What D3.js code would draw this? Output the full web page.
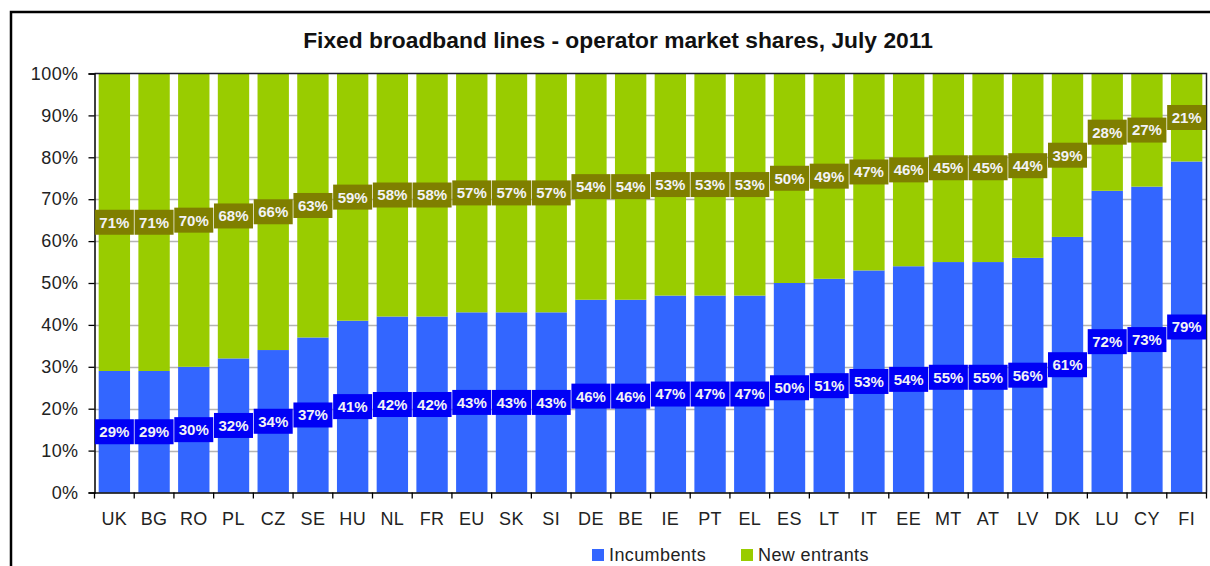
<!DOCTYPE html>
<html>
<head>
<meta charset="utf-8">
<script src="https://cdn.jsdelivr.net/npm/d3@7"></script>
<style>
  html, body { margin: 0; padding: 0; background: #fff; }
  svg { display: block; font-family: Arial, "Liberation Sans", sans-serif; }
</style>
</head>
<body>
<svg id="chart" width="1210" height="566"></svg>
<script>
// Fixed broadband lines: operator market shares by country, July 2011
const countries = ["UK","BG","RO","PL","CZ","SE","HU","NL","FR","EU","SK","SI","DE","BE","IE","PT","EL","ES","LT","IT","EE","MT","AT","LV","DK","LU","CY","FI"];
const incumbents = [29,29,30,32,34,37,41,42,42,43,43,43,46,46,47,47,47,50,51,53,54,55,55,56,61,72,73,79];
const newEntrants = [71,71,70,68,66,63,59,58,58,57,57,57,54,54,53,53,53,50,49,47,46,45,45,44,39,28,27,21];
const seriesNames = ["Incumbents", "New entrants"];
const yTicks = [0,10,20,30,40,50,60,70,80,90,100];
const titleText = "Fixed broadband lines - operator market shares, July 2011";

const svg = d3.select("#chart");
const plot = { left: 94.5, right: 1206.5, top: 73.5, bottom: 492.5 };
const axisFont = { size: 18, spacing: 0.4 };

const colors = {
  inc: "#3366ff", incLabel: "#0000f5",
  ne: "#99cc00", neLabel: "#7f7f00"
};

// outer frame (runs past the right and bottom edges)
svg.append("rect")
  .attr("x", 11).attr("y", 12).attr("width", 1300).attr("height", 700)
  .attr("fill", "none").attr("stroke", "#000").attr("stroke-width", 2.5);

const x = d3.scaleBand().domain(countries).range([plot.left, plot.right]).paddingInner(0.21).paddingOuter(0.105);
const y = d3.scaleLinear().domain([0, 100]).range([plot.bottom, plot.top]);

// horizontal gridlines
svg.append("g").selectAll("line").data(yTicks.filter(d => d > 0 && d < 100)).join("line")
  .attr("x1", plot.left).attr("x2", plot.right)
  .attr("y1", d => Math.round(y(d)) + 0.5).attr("y2", d => Math.round(y(d)) + 0.5)
  .attr("stroke", "#b4b4b4").attr("stroke-width", 1.3);

// stacked bars
const rows = countries.map((c, i) => ({ c, inc: incumbents[i], ne: newEntrants[i] }));
const bars = svg.append("g");
bars.selectAll("rect.inc").data(rows).join("rect").attr("class", "inc")
  .attr("x", d => x(d.c)).attr("width", x.bandwidth())
  .attr("y", d => y(d.inc)).attr("height", d => y(0) - y(d.inc))
  .attr("fill", colors.inc);
bars.selectAll("rect.ne").data(rows).join("rect").attr("class", "ne")
  .attr("x", d => x(d.c)).attr("width", x.bandwidth())
  .attr("y", d => y(d.inc + d.ne)).attr("height", d => y(d.inc) - y(d.inc + d.ne))
  .attr("fill", colors.ne);

// plot border (top and right)
svg.append("path")
  .attr("d", `M${plot.left},${plot.top}H${plot.right}V${plot.bottom}`)
  .attr("fill", "none").attr("stroke", "#1a1a2a").attr("stroke-width", 1.5);

// y axis
const yAxis = svg.append("g").attr("transform", `translate(${plot.left},0)`)
  .call(d3.axisLeft(y).tickValues(yTicks).tickFormat(d => d + "%").tickSize(6).tickPadding(10));
yAxis.select(".domain").attr("stroke", "#000").attr("stroke-width", 1.5);
yAxis.selectAll(".tick line").attr("stroke", "#000").attr("stroke-width", 1.3);
yAxis.selectAll(".tick text").attr("font-size", axisFont.size).attr("letter-spacing", axisFont.spacing)
  .attr("fill", "#222").attr("font-family", "Arial, 'Liberation Sans', sans-serif");

// x axis with ticks at category boundaries
const xAxis = svg.append("g").attr("transform", `translate(0,${plot.bottom})`)
  .call(d3.axisBottom(x).tickSize(0).tickPadding(20));
xAxis.select(".domain").attr("stroke", "#000").attr("stroke-width", 1.5);
xAxis.selectAll(".tick text").attr("font-size", axisFont.size).attr("letter-spacing", axisFont.spacing)
  .attr("fill", "#222").attr("font-family", "Arial, 'Liberation Sans', sans-serif");
const bounds = d3.range(countries.length + 1).map(i => plot.left + i * (plot.right - plot.left) / countries.length);
svg.append("g").selectAll("line").data(bounds).join("line")
  .attr("x1", d => d).attr("x2", d => d)
  .attr("y1", plot.bottom).attr("y2", plot.bottom + 6)
  .attr("stroke", "#000").attr("stroke-width", 1.3);

// value labels, centred in each segment
function addLabels(cls, getVal, getMid, fill) {
  const g = svg.append("g").attr("class", cls);
  const lab = g.selectAll("g").data(rows).join("g")
    .attr("transform", d => `translate(${x(d.c) + x.bandwidth() / 2},${y(getMid(d))})`);
  lab.append("rect")
    .attr("x", -19.5).attr("y", -12.5).attr("width", 39).attr("height", 25)
    .attr("fill", fill);
  lab.append("text")
    .attr("text-anchor", "middle").attr("dy", "0.36em")
    .attr("font-size", 15).attr("font-weight", "bold")
    .attr("fill", "#f2f2f6")
    .text(d => getVal(d) + "%");
}
addLabels("lab-inc", d => d.inc, d => d.inc / 2, colors.incLabel);
addLabels("lab-ne", d => d.ne, d => d.inc + d.ne / 2, colors.neLabel);

// title
svg.append("text").attr("x", 618).attr("y", 48).attr("text-anchor", "middle")
  .attr("font-size", 22.8).attr("font-weight", "bold").attr("fill", "#111")
  .text(titleText);

// legend
const legend = svg.append("g").attr("transform", "translate(592,549)");
const legendItems = [
  { name: seriesNames[0], color: colors.inc, dx: 0 },
  { name: seriesNames[1], color: colors.ne, dx: 149 }
];
const li = legend.selectAll("g").data(legendItems).join("g").attr("transform", d => `translate(${d.dx},0)`);
li.append("rect").attr("width", 12).attr("height", 12).attr("fill", d => d.color);
li.append("text").attr("x", 17).attr("y", 12).attr("font-size", axisFont.size).attr("letter-spacing", axisFont.spacing)
  .attr("fill", "#222").text(d => d.name);
</script>
</body>
</html>
